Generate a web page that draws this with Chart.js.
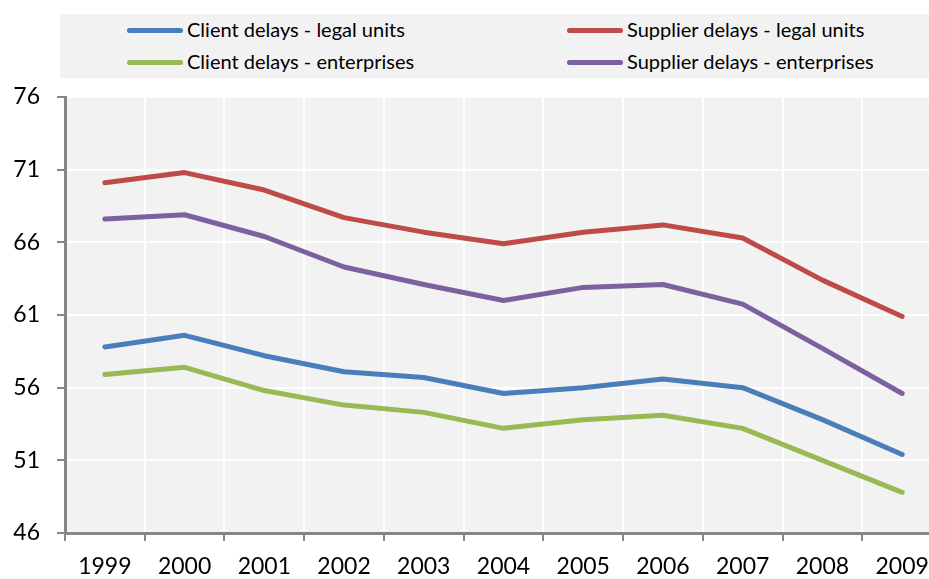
<!DOCTYPE html>
<html>
<head>
<meta charset="utf-8">
<script src="https://cdn.jsdelivr.net/npm/chart.js@4"></script>
<style>
  html, body { margin: 0; padding: 0; background: #fff; overflow: hidden; width: 929px; height: 579px; }
  #wrap { position: absolute; left: 0; top: 0; width: 945px; height: 579px; }
  #legend {
    position: absolute; left: 60px; top: 14px; width: 869px; height: 64px;
    background: #f2f2f2; font-family: Lato, "Open Sans", sans-serif; font-size: 20px; color: #000;
  }
  .item { position: absolute; height: 24px; line-height: 24px; white-space: nowrap; }
  .swatch { display: inline-block; width: 56px; height: 5px; border-radius: 3px; vertical-align: middle; margin-right: 4px; position: relative; top: -1px; }
</style>
</head>
<body>
<div id="wrap"><canvas id="chart"></canvas></div>
<div id="legend"></div>
<script>
const years = ["1999", "2000", "2001", "2002", "2003", "2004", "2005", "2006", "2007", "2008", "2009"];
const seriesNames = ["Client delays - legal units", "Supplier delays - legal units", "Client delays - enterprises", "Supplier delays - enterprises"];
const clientLegal = [58.8, 59.6, 58.2, 57.1, 56.7, 55.6, 56.0, 56.6, 56.0, 53.8, 51.4];
const supplierLegal = [70.1, 70.8, 69.6, 67.7, 66.7, 65.9, 66.7, 67.2, 66.3, 63.4, 60.9];
const clientEnt = [56.9, 57.4, 55.8, 54.8, 54.3, 53.2, 53.8, 54.1, 53.2, 51.0, 48.8];
const supplierEnt = [67.6, 67.9, 66.4, 64.3, 63.1, 62.0, 62.9, 63.1, 61.75, 58.7, 55.6];
const colors = ["#4a7ebb", "#be4b48", "#98b954", "#7d60a0"];
const values = [clientLegal, supplierLegal, clientEnt, supplierEnt];

// fond gris de la zone de tracé
const plotBg = {
  id: "plotBg",
  beforeDraw(chart) {
    const a = chart.chartArea;
    const ctx = chart.ctx;
    ctx.save();
    ctx.fillStyle = "#f2f2f2";
    ctx.fillRect(a.left, a.top, a.right - a.left, a.bottom - a.top);
    ctx.restore();
  }
};

const xFont = { family: "Lato, 'Open Sans', sans-serif", size: 23 };
const yFont = { family: "Lato, 'Open Sans', sans-serif", size: 23 };

const chart = new Chart(document.getElementById("chart"), {
  type: "line",
  data: {
    labels: years,
    datasets: values.map(function (v, i) {
      return {
        label: seriesNames[i],
        data: v,
        borderColor: colors[i],
        backgroundColor: colors[i],
        borderWidth: 5,
        borderCapStyle: "round",
        borderJoinStyle: "round",
        pointRadius: 0,
        tension: 0
      };
    })
  },
  options: {
    responsive: true,
    maintainAspectRatio: false,
    animation: false,
    layout: { padding: { top: 97, left: 0, right: 3, bottom: 0 } },
    plugins: { legend: { display: false }, tooltip: { enabled: false } },
    scales: {
      x: {
        offset: true,
        grid: { color: "#ffffff", lineWidth: 2, offset: true, tickColor: "#868686", tickLength: 8, tickWidth: 2 },
        border: { color: "#868686", width: 3 },
        ticks: { color: "#000", font: xFont, padding: 12, maxRotation: 0, autoSkip: false },
        afterFit(s) { s.height = 46; }
      },
      y: {
        min: 46,
        max: 76,
        grid: { color: "#ffffff", lineWidth: 2, tickColor: "#868686", tickLength: 8, tickWidth: 2 },
        border: { color: "#868686", width: 3 },
        ticks: { stepSize: 5, color: "#000", font: yFont, padding: 17 },
        afterFit(s) { s.width = 65; }
      }
    }
  },
  plugins: [plotBg]
});

// légende à deux colonnes
const legend = document.getElementById("legend");
const pos = [[67, 3], [507, 3], [67, 35], [507, 35]];
seriesNames.forEach(function (name, i) {
  const d = document.createElement("div");
  d.className = "item";
  d.style.left = pos[i][0] + "px";
  d.style.top = pos[i][1] + "px";
  d.innerHTML = '<span class="swatch" style="background:' + colors[i] + '"></span>' + name;
  legend.appendChild(d);
});
</script>
</body>
</html>
